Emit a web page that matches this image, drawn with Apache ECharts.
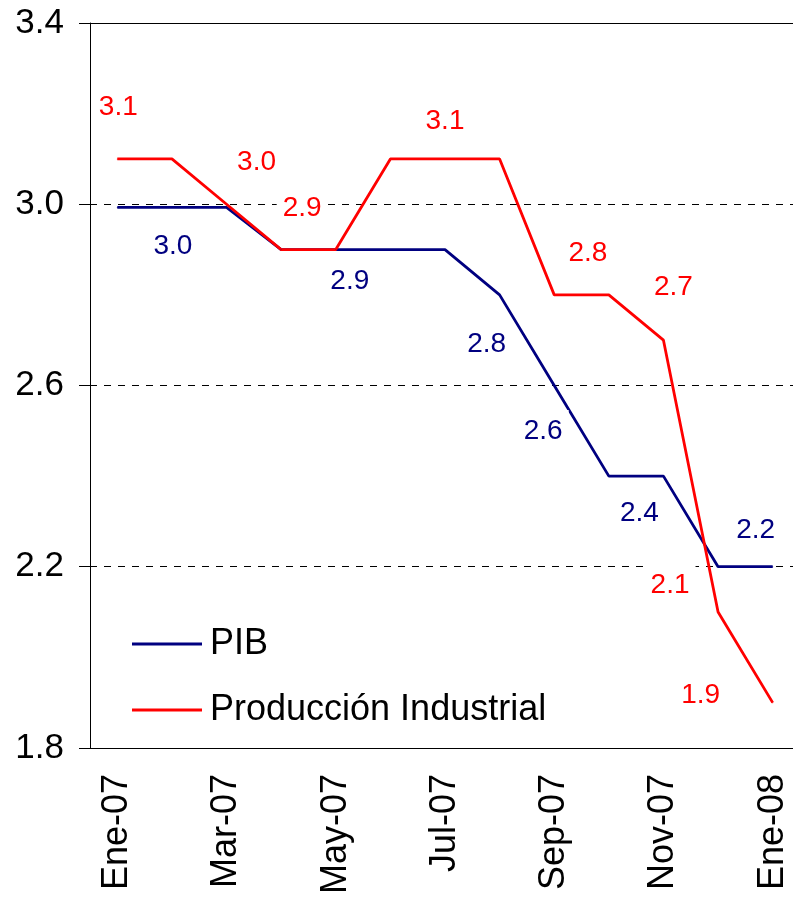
<!DOCTYPE html>
<html>
<head>
<meta charset="utf-8">
<script src="https://cdn.jsdelivr.net/npm/echarts@6/dist/echarts.min.js"></script>
<style>
  html, body { margin: 0; padding: 0; background: #fff; overflow: hidden; }
  #main { width: 800px; height: 897px; }
</style>
</head>
<body>
<div id="main"></div>
<script>
// datos
var meses = ['Ene-07', 'Feb-07', 'Mar-07', 'Abr-07', 'May-07', 'Jun-07', 'Jul-07',
             'Ago-07', 'Sep-07', 'Oct-07', 'Nov-07', 'Dic-07', 'Ene-08'];
var pib = [2.993, 2.993, 2.993, 2.9, 2.9, 2.9, 2.9, 2.8, 2.6, 2.4, 2.4, 2.2, 2.2];
var produccion = [3.1, 3.1, 3.0, 2.9, 2.9, 3.1, 3.1, 3.1, 2.8, 2.8, 2.7, 2.1, 1.9];

// posicion de las etiquetas (indice: [dx, dy])
var pibEtiquetas = {1: [1, 39], 4: [14, 32], 7: [-13, 49], 8: [-11, 46], 10: [-24, 37], 12: [-17, -36]};
var prodEtiquetas = {0: [1, -52], 2: [30, -42], 3: [21, -41], 6: [0, -38], 9: [-21, -42],
                     10: [10, -53], 11: [-48, -27], 12: [-72, -7]};

var fuente = 'Arial, "Liberation Sans", sans-serif';

function armar(valores, etiquetas) {
    return valores.map(function (v, i) {
        var item = {value: v};
        if (etiquetas[i]) {
            item.label = {show: true, offset: etiquetas[i]};
        }
        return item;
    });
}

function serie(nombre, valores, etiquetas, color) {
    return {
        name: nombre,
        type: 'line',
        data: armar(valores, etiquetas),
        symbol: 'circle',
        symbolSize: 1,
        color: color,
        itemStyle: {color: color},
        lineStyle: {color: color, width: 2.8},
        emphasis: {disabled: true},
        label: {
            show: false,
            position: 'inside',
            color: color,
            fontFamily: fuente,
            fontSize: 28,
            backgroundColor: '#fff',
            padding: [13, 6, 2, 6],
            formatter: function (p) { return p.value.toFixed(1); }
        }
    };
}

// el area del grafico sigue 7px fuera de la ventana, como en el original
var myChart = echarts.init(document.getElementById('main'));
var option = {
    backgroundColor: '#fff',
    animation: false,
    grid: {left: 90, top: 23, right: 0, bottom: 148, containLabel: false},
    legend: {
        orient: 'vertical',
        left: 127,
        top: 621,
        icon: 'rect',
        itemWidth: 70,
        itemHeight: 3,
        itemGap: 30,
        textStyle: {fontFamily: fuente, fontSize: 36, color: '#000', lineHeight: 36, padding: [0, 0, 0, 3]},
        data: ['PIB', 'Producción Industrial']
    },
    xAxis: [{
        type: 'category',
        data: meses,
        boundaryGap: true,
        axisLine: {lineStyle: {color: '#000', width: 1}},
        axisTick: {interval: 1, length: 10, lineStyle: {color: '#555'}},
        axisLabel: {interval: 1, rotate: 90, margin: 26, fontFamily: fuente, fontSize: 36, color: '#000'}
    }, {
        type: 'category',
        position: 'top',
        data: meses,
        axisLine: {lineStyle: {color: '#000', width: 1}},
        axisTick: {show: false},
        axisLabel: {show: false}
    }],
    yAxis: {
        type: 'value',
        min: 1.8,
        max: 3.4,
        interval: 0.4,
        axisLine: {show: true, lineStyle: {color: '#000', width: 1}},
        axisTick: {show: true, length: 11, lineStyle: {color: '#000'}},
        axisLabel: {
            margin: 26, fontFamily: fuente, fontSize: 35, color: '#000',
            formatter: function (v) { return v.toFixed(1); }
        },
        splitLine: {show: true, lineStyle: {color: '#000', type: [7, 7], width: 1}}
    },
    series: [
        serie('PIB', pib, pibEtiquetas, '#000080'),
        serie('Producción Industrial', produccion, prodEtiquetas, '#ff0000')
    ]
};
myChart.setOption(option);
</script>
</body>
</html>
